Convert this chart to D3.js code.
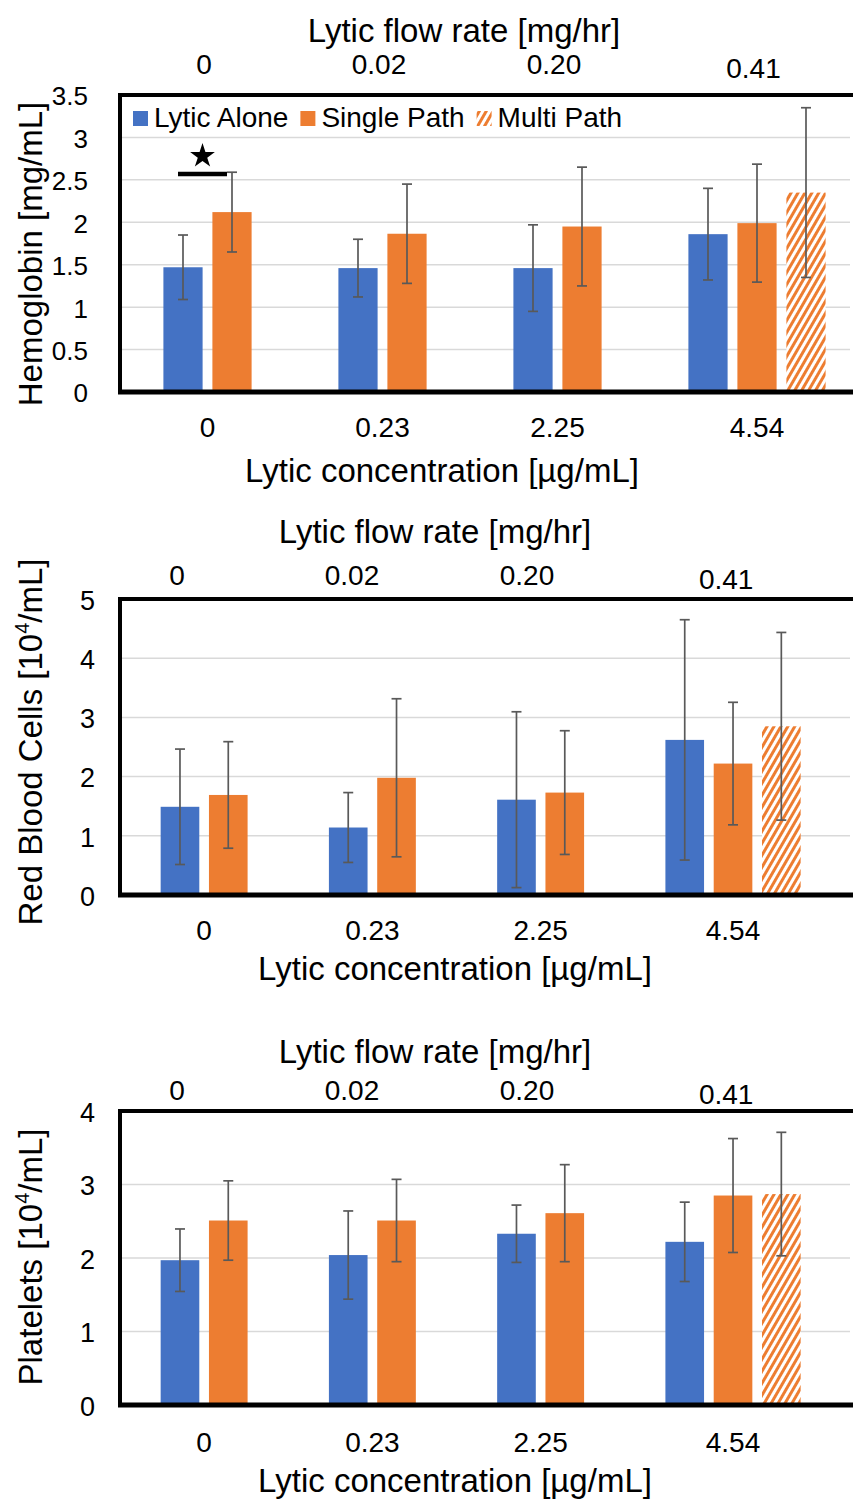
<!DOCTYPE html>
<html>
<head>
<meta charset="utf-8">
<script src="https://cdn.jsdelivr.net/npm/d3@7"></script>
<style>
  body { margin: 0; background: #fff; }
  text { font-family: "Liberation Sans", Arial, sans-serif; fill: #000; }
</style>
</head>
<body>
<svg id="chart"></svg>
<script>
// Categories
const concentrations = ["0", "0.23", "2.25", "4.54"];
const flowRates = ["0", "0.02", "0.20", "0.41"];
const seriesNames = ["Lytic Alone", "Single Path", "Multi Path"];

// Hemoglobin [mg/mL]
const hbAlone = [1.47, 1.46, 1.46, 1.86];
const hbAloneErr = [0.38, 0.34, 0.51, 0.54];
const hbSingle = [2.12, 1.865, 1.95, 1.99];
const hbSingleErr = [0.47, 0.585, 0.70, 0.695];
const hbMulti = [null, null, null, 2.35];
const hbMultiErr = [null, null, null, 1.0];

// Red blood cells [10^4/mL]
const rbcAlone = [1.49, 1.14, 1.61, 2.62];
const rbcAloneErr = [0.975, 0.59, 1.485, 2.03];
const rbcSingle = [1.69, 1.98, 1.73, 2.22];
const rbcSingleErr = [0.90, 1.335, 1.045, 1.035];
const rbcMulti = [null, null, null, 2.85];
const rbcMultiErr = [null, null, null, 1.585];

// Platelets [10^4/mL]
const pltAlone = [1.97, 2.04, 2.33, 2.22];
const pltAloneErr = [0.425, 0.60, 0.39, 0.54];
const pltSingle = [2.51, 2.51, 2.61, 2.85];
const pltSingleErr = [0.54, 0.56, 0.66, 0.775];
const pltMulti = [null, null, null, 2.87];
const pltMultiErr = [null, null, null, 0.84];

// y ticks
const hbTicks = [0, 0.5, 1, 1.5, 2, 2.5, 3, 3.5];
const rbcTicks = [0, 1, 2, 3, 4, 5];
const pltTicks = [0, 1, 2, 3, 4];

// significance mark on hemoglobin, group "0"
const hbSig = { group: "0", from: "Lytic Alone", to: "Single Path", lineAt: 2.57, starAt: 2.78 };

const colors = { "Lytic Alone": "#4472C4", "Single Path": "#ED7D31", "Multi Path": "url(#hatch)" };

const W = 853, H = 1502;
const svg = d3.select("#chart").attr("width", W).attr("height", H);
svg.append("rect").attr("width", W).attr("height", H).attr("fill", "#fff");

// hatch for multi path
const defs = svg.append("defs");
const pat = defs.append("pattern")
  .attr("id", "hatch")
  .attr("patternUnits", "userSpaceOnUse")
  .attr("width", 6).attr("height", 6)
  .attr("patternTransform", "rotate(30)");
pat.append("rect").attr("width", 6).attr("height", 6).attr("fill", "#fff");
pat.append("rect").attr("width", 3).attr("height", 6).attr("fill", "#ED7D31");

const panels = [
  {
    label: "Hemoglobin [mg/mL]", sup: null,
    values: [hbAlone, hbSingle, hbMulti], errors: [hbAloneErr, hbSingleErr, hbMultiErr],
    ticks: hbTicks, top: 95, bottom: 392, xRange: [120, 820], inner: 49, topRange: [116.5, 816.5],
    tickRight: 88, tickSize: 26, yTitleY: 254,
    titleTopY: 42, topTickY: 74, bottomTickY: 437, bottomTitleY: 482, titleTopX: 464, bottomTitleX: 442,
    legend: true, sig: hbSig
  },
  {
    label: "Red Blood Cells [10", sup: "4", after: "/mL]",
    values: [rbcAlone, rbcSingle, rbcMulti], errors: [rbcAloneErr, rbcSingleErr, rbcMultiErr],
    ticks: rbcTicks, top: 599, bottom: 895, xRange: [120, 793], inner: 48.3, topRange: [89.5, 789.5],
    tickRight: 95, tickSize: 27, yTitleY: 742,
    titleTopY: 543, topTickY: 585, bottomTickY: 940, bottomTitleY: 980, titleTopX: 435, bottomTitleX: 455
  },
  {
    label: "Platelets [10", sup: "4", after: "/mL]",
    values: [pltAlone, pltSingle, pltMulti], errors: [pltAloneErr, pltSingleErr, pltMultiErr],
    ticks: pltTicks, top: 1111, bottom: 1405, xRange: [120, 793], inner: 48.3, topRange: [89.5, 789.5],
    tickRight: 95, tickSize: 27, yTitleY: 1257,
    titleTopY: 1063, topTickY: 1100, bottomTickY: 1452, bottomTitleY: 1492, titleTopX: 435, bottomTitleX: 455
  }
];

panels.forEach(drawPanel);

function drawPanel(p) {
  const g = svg.append("g");
  const left = p.xRange[0];

  const y = d3.scaleLinear().domain([0, d3.max(p.ticks)]).range([p.bottom, p.top]);
  const x = d3.scaleBand().domain(concentrations).range(p.xRange);
  const bw = x.bandwidth();
  const xIn = d3.scaleBand().domain(seriesNames)
    .range([bw / 2 - p.inner, bw / 2 + 2 * p.inner])
    .paddingInner(0.2).paddingOuter(0.1);
  const xTop = d3.scaleBand().domain(flowRates).range(p.topRange);

  // gridlines
  g.append("g").selectAll("line")
    .data(p.ticks.filter(t => t > 0 && t < d3.max(p.ticks)))
    .join("line")
    .attr("x1", left).attr("x2", 850)
    .attr("y1", d => y(d)).attr("y2", d => y(d))
    .attr("stroke", "#d9d9d9").attr("stroke-width", 1.5);

  // bars
  const rows = [];
  seriesNames.forEach((s, si) => {
    concentrations.forEach((c, ci) => {
      const v = p.values[si][ci];
      if (v != null) rows.push({ s, c, ci, v, e: p.errors[si][ci] });
    });
  });
  const cx = d => x(d.c) + xIn(d.s) + xIn.bandwidth() / 2;

  g.append("g").selectAll("rect")
    .data(rows).join("rect")
    .attr("x", d => x(d.c) + xIn(d.s))
    .attr("y", d => y(d.v))
    .attr("width", xIn.bandwidth())
    .attr("height", d => y(0) - y(d.v))
    .attr("fill", d => colors[d.s]);

  // error bars
  const eb = g.append("g").attr("stroke", "#595959").attr("stroke-width", 1.7);
  eb.selectAll("line.v").data(rows).join("line").attr("class", "v")
    .attr("x1", cx).attr("x2", cx)
    .attr("y1", d => y(d.v - d.e)).attr("y2", d => y(d.v + d.e));
  ["-", "+"].forEach(sign => {
    eb.selectAll("line.c" + (sign === "+" ? "p" : "m")).data(rows).join("line")
      .attr("class", "c" + (sign === "+" ? "p" : "m"))
      .attr("x1", d => cx(d) - 5).attr("x2", d => cx(d) + 5)
      .attr("y1", d => y(sign === "+" ? d.v + d.e : d.v - d.e))
      .attr("y2", d => y(sign === "+" ? d.v + d.e : d.v - d.e));
  });

  // frame
  g.append("path")
    .attr("d", `M${left},${p.bottom} V${p.top} H${W + 10}`)
    .attr("fill", "none").attr("stroke", "#000").attr("stroke-width", 4);
  g.append("line")
    .attr("x1", left - 2).attr("x2", W + 10)
    .attr("y1", p.bottom).attr("y2", p.bottom)
    .attr("stroke", "#000").attr("stroke-width", 5);

  // label centre = middle of the bars present in a group
  const groupCenter = c => d3.mean(rows.filter(r => r.c === c), cx);
  const shift = c => groupCenter(c) - (x(c) + bw / 2);

  // y ticks
  const yAxis = g.append("g")
    .attr("transform", `translate(${p.tickRight},0)`)
    .call(d3.axisLeft(y).tickValues(p.ticks).tickSize(0).tickPadding(0).tickFormat(d3.format("~g")));
  yAxis.select(".domain").remove();
  yAxis.selectAll("text").attr("font-size", p.tickSize).attr("font-family", "Liberation Sans, Arial, sans-serif")
    .attr("dy", "0.38em").attr("fill", "#000");

  // bottom tick labels
  g.append("g").selectAll("text").data(concentrations).join("text")
    .attr("x", d => groupCenter(d)).attr("y", p.bottomTickY)
    .attr("text-anchor", "middle").attr("font-size", 28)
    .text(d => d);

  // top tick labels (flow rate)
  g.append("g").selectAll("text").data(flowRates).join("text")
    .attr("x", (d, i) => xTop(d) + xTop.bandwidth() / 2 + shift(concentrations[i]))
    .attr("y", (d, i) => p.topTickY + (shift(concentrations[i]) > 1 ? 4 : 0))
    .attr("text-anchor", "middle").attr("font-size", 28)
    .text(d => d);

  // axis titles
  g.append("text").attr("x", p.titleTopX).attr("y", p.titleTopY)
    .attr("text-anchor", "middle").attr("font-size", 33)
    .text("Lytic flow rate [mg/hr]");
  g.append("text").attr("x", p.bottomTitleX).attr("y", p.bottomTitleY)
    .attr("text-anchor", "middle").attr("font-size", 33)
    .text("Lytic concentration [\u00b5g/mL]");

  const yt = g.append("text")
    .attr("transform", `translate(42,${p.yTitleY}) rotate(-90)`)
    .attr("text-anchor", "middle").attr("font-size", 33);
  yt.append("tspan").text(p.label);
  if (p.sup) {
    yt.append("tspan").attr("font-size", 20).attr("dy", -13).text(p.sup);
    yt.append("tspan").attr("dy", 13).text(p.after);
  }

  // legend
  if (p.legend) {
    const lg = g.append("g").attr("transform", "translate(133,0)");
    let lx = 0;
    seriesNames.forEach(s => {
      lg.append("rect").attr("x", lx).attr("y", 111).attr("width", 15).attr("height", 15)
        .attr("fill", colors[s]);
      const t = lg.append("text").attr("x", lx + 21).attr("y", 127)
        .attr("font-size", 28).text(s);
      lx += 21 + t.node().getComputedTextLength() + 12;
    });
  }

  // significance
  if (p.sig) {
    const s = p.sig;
    const x1 = x(s.group) + xIn(s.from) + xIn.bandwidth() / 2 - 5;
    const x2 = x(s.group) + xIn(s.to) + xIn.bandwidth() / 2 - 5;
    g.append("line").attr("x1", x1).attr("x2", x2)
      .attr("y1", y(s.lineAt)).attr("y2", y(s.lineAt))
      .attr("stroke", "#000").attr("stroke-width", 4.5);
    g.append("path")
      .attr("d", d3.symbol(d3.symbolStar, 190)())
      .attr("transform", `translate(${(x1 + x2) / 2},${y(s.starAt)})`)
      .attr("fill", "#000");
  }
}
</script>
</body>
</html>
